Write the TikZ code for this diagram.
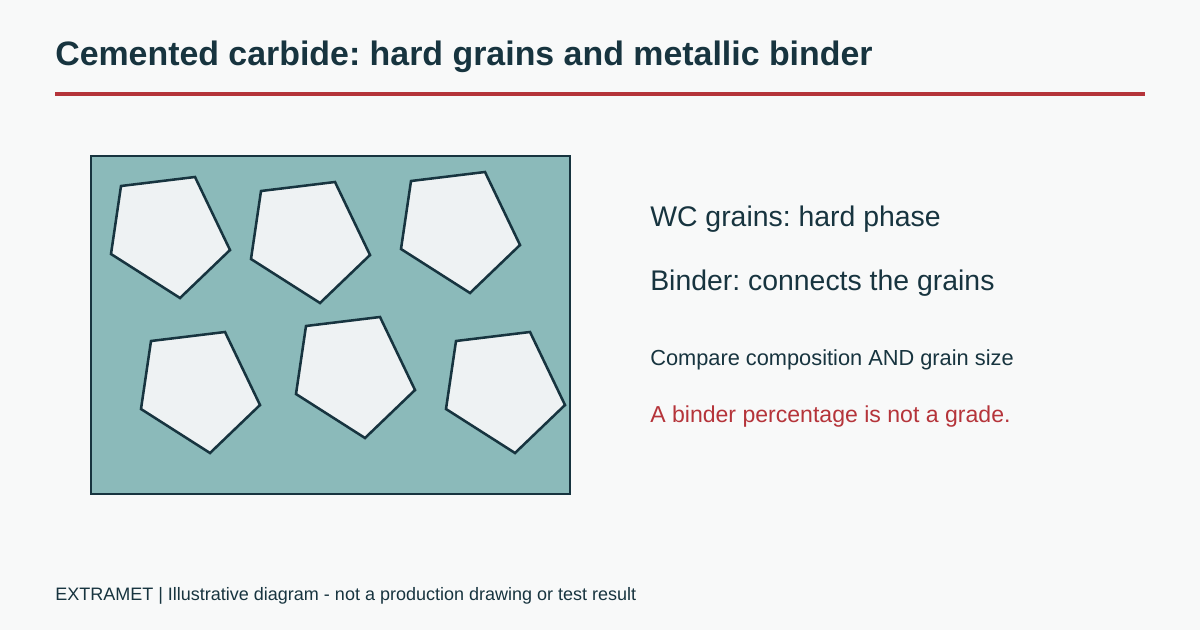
\documentclass[tikz,border=0pt]{standalone}
\usepackage{fontspec}
\setmainfont{Liberation Sans}
\definecolor{ink}{HTML}{17343F}
\definecolor{rule}{HTML}{B5343A}
\definecolor{binder}{HTML}{8BBABA}
\definecolor{grain}{HTML}{EEF2F3}
\definecolor{paper}{HTML}{F8F9F9}
\tikzset{
  txt/.style={anchor=base west,inner sep=0pt,text=ink},
  grainpoly/.style={fill=grain,draw=ink,line width=1.8pt,line join=miter}
}
\frenchspacing
\begin{document}
\begin{tikzpicture}[x=0.025cm,y=-0.025cm]
\fill[paper] (0,0) rectangle (1200,630);
\useasboundingbox (0,0) rectangle (1200,630);

\node[txt,font=\bfseries\fontsize{24.1}{28}\selectfont] (title) at (55,66) {Cemented carbide: hard grains and metallic binder};
\draw[rule,line width=2.3pt] (55,94) -- (1145,94);

% binder with grains
\draw[fill=binder,draw=ink,line width=1.4pt] (91,156) rectangle (570,494);
\foreach \dx/\dy in {0/0,140/5,290/-5,30/155,185/140,335/155}{
\begin{scope}[xshift=\dx*0.025cm,yshift=-\dy*0.025cm]
\draw[grainpoly] (121,186) -- (195,177) -- (230,250) -- (180,298) -- (111,254) -- cycle;
\end{scope}
}

\node[txt,font=\fontsize{20.2}{24}\selectfont] (hard) at (650,226) {WC grains: hard phase};
\node[txt,font=\fontsize{20.2}{24}\selectfont] (bind) at (650,290) {Binder: connects the grains};
\node[txt,font=\fontsize{15.5}{18}\selectfont] (cmp) at (650,365) {Compare composition AND grain size};
\node[txt,text=rule,font=\fontsize{16.4}{19}\selectfont] (warn) at (650,422) {A binder percentage is not a grade.};

\node[txt,font=\fontsize{12.8}{15}\selectfont] (foot) at (55,600) {EXTRAMET | Illustrative diagram - not a production drawing or test result};
\end{tikzpicture}
\end{document}
